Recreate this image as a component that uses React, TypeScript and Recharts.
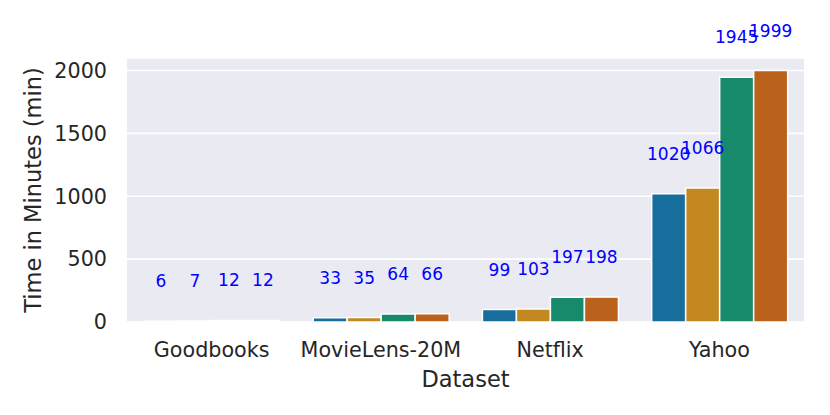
import { BarChart, Bar, XAxis, YAxis, CartesianGrid, LabelList } from 'recharts';

const DATASETS = ['Goodbooks', 'MovieLens-20M', 'Netflix', 'Yahoo'];
const SERIES_A = [6, 33, 99, 1020];
const SERIES_B = [7, 35, 103, 1066];
const SERIES_C = [12, 64, 197, 1945];
const SERIES_D = [12, 66, 198, 1999];
const Y_TICKS = [0, 500, 1000, 1500, 2000];

const COLORS = ['#176D9C', '#C38820', '#168A6A', '#BA611B'];
const INK = '#262626';
const FONT = '"DejaVu Sans", sans-serif';

const data = DATASETS.map((name, i) => ({
    dataset: name,
    a: SERIES_A[i],
    b: SERIES_B[i],
    c: SERIES_C[i],
    d: SERIES_D[i],
}));

const keys = ['a', 'b', 'c', 'd'];

export default function App() {
    return (
        <div style={{ position: 'absolute', left: 0, top: 0, background: '#fff', fontFamily: FONT }}>
            <BarChart
                width={830}
                height={415}
                data={data}
                margin={{ top: 58, right: 26, bottom: 23, left: 27 }}
                barCategoryGap="10%"
                barGap={0}
            >
                <CartesianGrid vertical={false} stroke="#ffffff" strokeWidth={1.6} fill="#EAEAF2" />
                <XAxis
                    dataKey="dataset"
                    axisLine={false}
                    tickLine={false}
                    tickSize={0}
                    tickMargin={20}
                    height={70}
                    interval={0}
                    tick={{ fill: INK, fontSize: 20.7, fontFamily: FONT }}
                    label={{ value: 'Dataset', position: 'insideBottom', offset: 5, fill: INK, fontSize: 22.5, fontFamily: FONT }}
                />
                <YAxis
                    domain={[0, 2099]}
                    ticks={Y_TICKS}
                    axisLine={false}
                    tickLine={false}
                    tickSize={0}
                    tickMargin={20}
                    width={100}
                    tick={{ fill: INK, fontSize: 20.7, fontFamily: FONT }}
                    label={{
                        value: 'Time in Minutes (min)',
                        angle: -90,
                        position: 'insideLeft',
                        offset: 6,
                        fill: INK,
                        fontSize: 22.5,
                        fontFamily: FONT,
                        style: { textAnchor: 'middle' },
                    }}
                />
                {keys.map((k, i) => (
                    <Bar key={k} dataKey={k} fill={COLORS[i]} stroke="#ffffff" strokeWidth={1.5} isAnimationActive={false}>
                        <LabelList dataKey={k} position="top" offset={34} fill="#0000ff" fontSize={17} fontFamily={FONT} />
                    </Bar>
                ))}
            </BarChart>
        </div>
    );
}
